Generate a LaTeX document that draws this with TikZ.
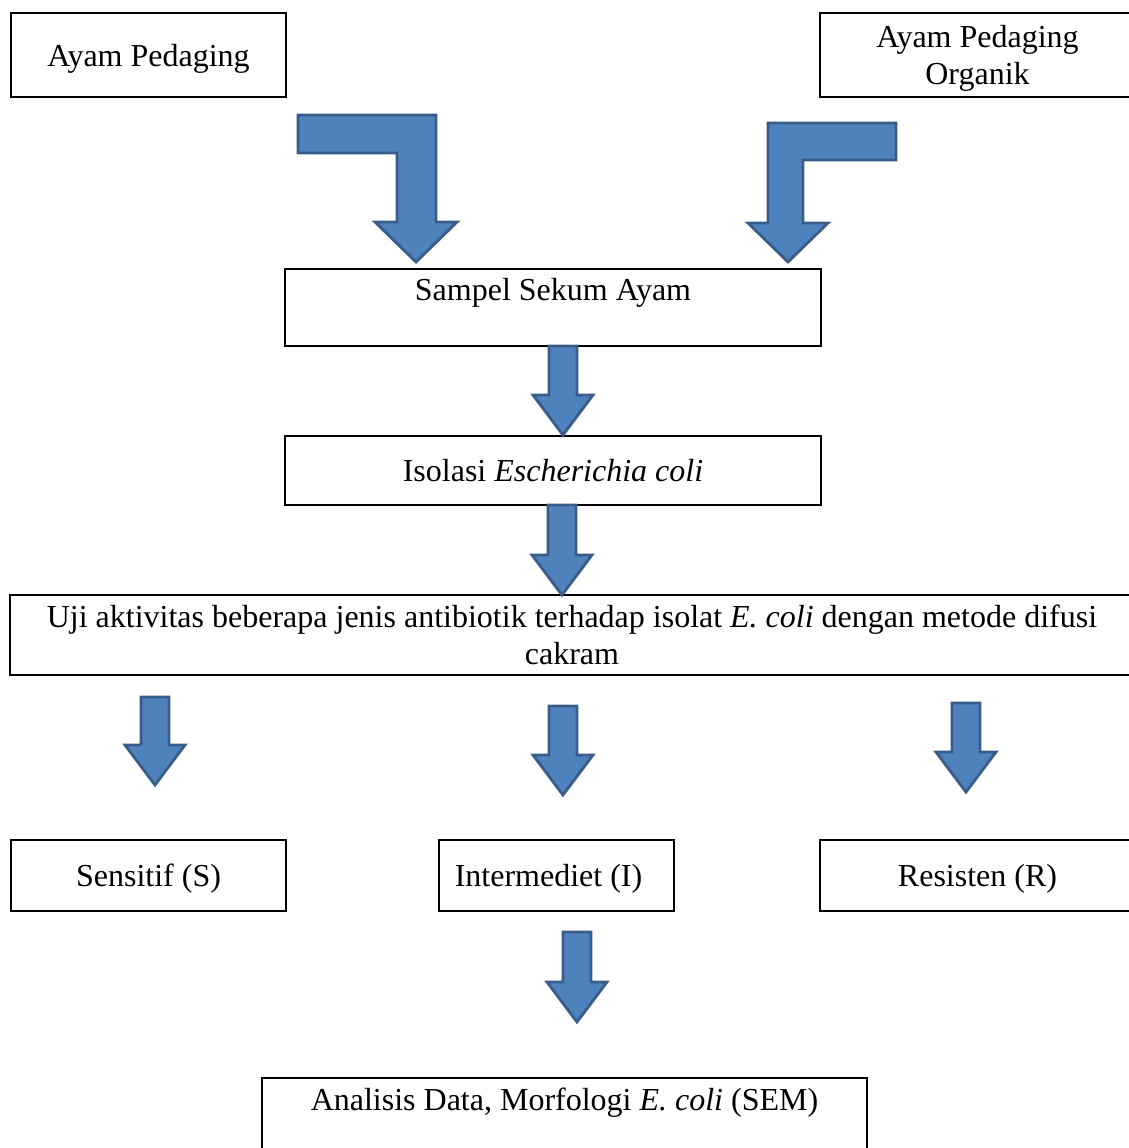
\documentclass[tikz,border=0pt]{standalone}
\usepackage{fontspec}
\setmainfont{Liberation Serif}
\usepackage{tikz}
\usetikzlibrary{positioning}
\definecolor{arrfill}{RGB}{79, 129, 189}
\definecolor{arrline}{RGB}{56, 93, 138}
\tikzset{
	box/.style={draw, line width=1pt, inner sep=0pt, text depth=0pt, align=center, font=\fontsize{16}{18.5}\selectfont},
	blockarr/.style={fill=arrfill, draw=arrline, line width=1.4pt, line join=miter}
}
\newcommand{\blockarrow}[3]{% {x}{top}{tip}
	\draw[blockarr] (#1-14,#2) -- (#1+14,#2) -- (#1+14,#3-40) -- (#1+30,#3-40) -- (#1,#3) -- (#1-30,#3-40) -- (#1-14,#3-40) -- cycle % arrow
}

\begin{document}
\begin{tikzpicture}[x=0.5pt, y=-0.5pt]
				\clip (0,0) rectangle (1129,1148);
				\node[box, minimum width=137.5pt, minimum height=42pt] (ayam) at (148.5,55) {Ayam Pedaging};
				\node[box, minimum width=157.5pt, minimum height=42pt] (organik) at (977.5,55) {Ayam Pedaging\\Organik};
				\node[box, minimum width=268pt, minimum height=38.5pt] (sampel) at (553,307.5) {Sampel Sekum Ayam\\ \mbox{}};
				\node[box, minimum width=268pt, minimum height=34.5pt] (isolasi) at (553,470.5) {Isolasi \textit{Escherichia coli}};
				\node[box, minimum width=562pt, minimum height=40pt] (uji) at (572,635) {Uji aktivitas beberapa jenis antibiotik terhadap isolat \textit{E. coli} dengan metode difusi\\cakram};
				\node[box, minimum width=137.5pt, minimum height=35.5pt] (sens) at (148.5,875.5) {Sensitif (S)};
				\node[box, minimum width=117.5pt, minimum height=35.5pt] (inter) at (556.5,875.5) {Intermediet (I)\hspace{8pt}};
				\node[box, minimum width=157.5pt, minimum height=35.5pt] (resist) at (977.5,875.5) {Resisten (R)};
				\node[box, minimum width=302.5pt, minimum height=41pt] (analisis) at (564.5,1119) {Analisis Data, Morfologi \textit{E. coli} (SEM)\\[1pt] \mbox{}};

				% bent arrows
				\draw[blockarr] (298,115) -- (436,115) -- (436,222) -- (457,222) -- (416,262) -- (375,222) -- (397,222) -- (397,153) -- (298,153) -- cycle;
				\draw[blockarr] (896,123) -- (896,160) -- (803,160) -- (803,223) -- (828,223) -- (788,262) -- (748,223) -- (768,223) -- (768,123) -- cycle;

				\blockarrow{563}{346}{435};
				\blockarrow{562}{505}{595};
				\blockarrow{155}{697}{785};
				\blockarrow{563}{706}{795};
				\blockarrow{966}{703}{792};
				\blockarrow{577}{932}{1022};
			\end{tikzpicture}
\end{document}
